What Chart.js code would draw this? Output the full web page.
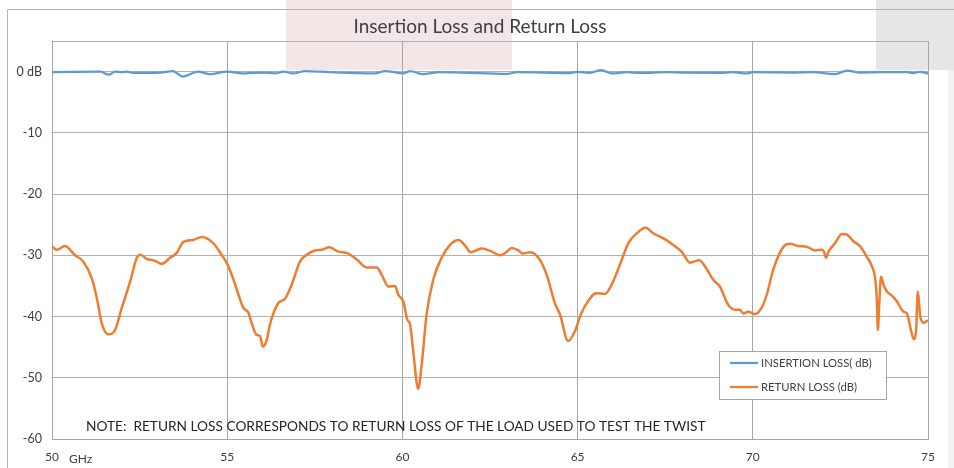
<!DOCTYPE html>
<html>
<head>
<meta charset="utf-8">
<script src="https://cdn.jsdelivr.net/npm/chart.js@4"></script>
<style>
  body { margin: 0; background: #fff; }
  canvas { display: block; }
</style>
</head>
<body>
<canvas id="myChart" width="954" height="468"></canvas>
<script>
// insertion loss, GHz / dB
const ilFreq = [50.00, 51.37, 51.63, 51.80, 52.00, 52.14, 52.31, 53.08, 53.45, 53.74, 54.17, 54.51, 54.99,
  55.51, 55.99, 56.36, 56.62, 56.88, 57.22, 57.93, 59.22, 59.50, 60.02, 60.22, 60.56, 61.07, 61.64,
  63.01, 63.27, 64.78, 64.98, 65.35, 65.67, 65.98, 66.41, 66.78, 67.55, 68.01, 69.01, 69.43, 69.83,
  70.00, 71.15, 71.72, 72.35, 72.69, 73.06, 73.63, 74.40, 74.57, 74.77, 75.00];
const ilDb = [-0.1, 0.0, -0.5, 0.0, -0.1, 0.0, -0.2, -0.15, 0.1, -0.8, 0.0, -0.4, 0.0,
  -0.3, -0.15, -0.3, 0.0, -0.3, 0.1, -0.1, -0.3, 0.1, -0.3, 0.1, -0.4, -0.1, -0.15,
  -0.35, -0.1, -0.25, -0.05, -0.2, 0.25, -0.3, -0.1, -0.2, -0.1, -0.15, -0.2, -0.1, -0.3,
  -0.1, -0.15, -0.1, -0.4, 0.15, -0.15, -0.1, -0.1, -0.25, -0.05, -0.3];

// return loss, GHz / dB
const rlFreq = [50.00, 50.13, 50.37, 50.66, 50.89, 51.13, 51.28, 51.42, 51.61, 51.80, 51.99, 52.23, 52.42,
  52.53, 52.70, 52.94, 53.13, 53.37, 53.56, 53.75, 54.03, 54.27, 54.60, 54.84, 55.00, 55.13, 55.32,
  55.46, 55.60, 55.70, 55.84, 55.94, 56.01, 56.13, 56.22, 56.46, 56.65, 56.84, 57.08, 57.27, 57.51,
  57.70, 57.91, 58.17, 58.41, 58.70, 58.98, 59.27, 59.41, 59.60, 59.79, 59.88, 60.03, 60.14, 60.22,
  60.31, 60.45, 60.55, 60.69, 60.88, 61.12, 61.36, 61.60, 61.79, 61.95, 62.26, 62.55, 62.79, 62.96,
  63.12, 63.31, 63.43, 63.64, 63.88, 64.12, 64.35, 64.50, 64.73, 64.93, 65.07, 65.21, 65.54, 65.78,
  65.97, 66.21, 66.45, 66.69, 66.94, 67.16, 67.44, 67.73, 67.97, 68.21, 68.47, 68.68, 68.87, 69.06,
  69.30, 69.49, 69.63, 69.73, 69.87, 70.06, 70.25, 70.40, 70.58, 70.77, 70.91, 71.06, 71.30, 71.54,
  71.77, 71.97, 72.03, 72.09, 72.16, 72.35, 72.54, 72.68, 72.87, 73.06, 73.25, 73.40, 73.49, 73.54,
  73.57, 73.61, 73.66, 73.73, 73.83, 73.97, 74.11, 74.30, 74.40, 74.49, 74.59, 74.66, 74.71, 74.78,
  74.88, 75.00];
const rlDb = [-28.5, -29.1, -28.5, -30.0, -31.0, -33.7, -37.0, -41.1, -42.9, -42.2, -38.6, -34.3, -30.4,
  -29.9, -30.6, -30.9, -31.4, -30.4, -29.6, -27.8, -27.5, -27.0, -28.0, -29.9, -31.4, -33.2, -36.4,
  -38.6, -39.3, -41.1, -43.0, -43.2, -44.9, -43.8, -41.3, -37.8, -37.1, -34.8, -31.0, -29.9, -29.2,
  -29.1, -28.7, -29.4, -29.6, -30.7, -32.0, -32.0, -33.2, -35.1, -35.0, -36.4, -37.6, -40.5, -41.3,
  -45.7, -51.8, -47.9, -39.7, -34.0, -30.4, -28.3, -27.5, -28.4, -29.5, -28.9, -29.4, -30.0, -29.5,
  -28.8, -29.2, -29.7, -29.5, -30.4, -33.2, -37.8, -39.7, -44.0, -42.3, -40.0, -38.3, -36.2, -36.3,
  -34.8, -31.5, -28.0, -26.4, -25.5, -26.4, -27.2, -28.3, -29.4, -31.2, -30.8, -32.2, -34.0, -35.1,
  -38.1, -38.9, -38.9, -39.5, -39.2, -39.6, -38.6, -36.4, -32.4, -29.6, -28.4, -28.1, -28.5, -28.6,
  -29.2, -29.1, -29.4, -30.4, -29.4, -28.0, -26.5, -26.6, -27.7, -28.5, -30.2, -31.8, -33.7, -37.3,
  -42.2, -37.8, -33.5, -34.8, -35.9, -36.6, -37.5, -39.2, -39.5, -41.6, -43.7, -42.2, -35.9, -40.0,
  -41.0, -40.6];

const yTicks = [0, -10, -20, -30, -40, -50, -60];
const xTicks = [50, 55, 60, 65, 70, 75];
const seriesNames = ['INSERTION LOSS( dB)', 'RETURN LOSS (dB)'];
const seriesColors = ['#5b9bd5', '#ed7d31'];
const titleText = 'Insertion Loss and Return Loss';
const noteText = 'NOTE:  RETURN LOSS CORRESPONDS TO RETURN LOSS OF THE LOAD USED TO TEST THE TWIST';

const toPoints = (xs, ys) => xs.map((x, i) => ({ x: x, y: ys[i] }));

const decor = {
    id: 'decor',
    beforeDraw(chart) {
        const ctx = chart.ctx;
        ctx.save();
        ctx.fillStyle = '#ffffff';
        ctx.fillRect(0, 0, 954, 468);
        ctx.fillStyle = '#f2e6e6';
        ctx.fillRect(286, 0, 226, 70);
        ctx.fillStyle = '#e6e6e6';
        ctx.fillRect(876, 0, 78, 70);
        ctx.fillStyle = '#f2f2f2';
        ctx.fillRect(948, 70, 6, 398);
        ctx.strokeStyle = '#b4b4b4';
        ctx.lineWidth = 1;
        ctx.beginPath();
        ctx.moveTo(7.5, 468);
        ctx.lineTo(7.5, 9.5);
        ctx.lineTo(954, 9.5);
        ctx.stroke();

        // title
        ctx.fillStyle = '#404040';
        ctx.font = '19px Lato';
        ctx.textAlign = 'center';
        ctx.textBaseline = 'middle';
        ctx.fillText(titleText, 480, 27);
        ctx.restore();
    },
    afterDraw(chart) {
        const ctx = chart.ctx;
        ctx.save();
        ctx.fillStyle = '#262626';
        ctx.font = '13.7px Lato';
        ctx.textBaseline = 'middle';
        ctx.fillText(noteText, 86, 427);
        ctx.fillStyle = '#404040';
        ctx.font = '12px Lato';
        ctx.fillText('GHz', 69, 459);

        // legend
        ctx.fillStyle = '#ffffff';
        ctx.fillRect(719.5, 351.5, 167, 48);
        ctx.strokeStyle = '#a6a6a6';
        ctx.lineWidth = 1;
        ctx.strokeRect(719.5, 351.5, 167, 48);
        seriesNames.forEach((name, i) => {
            const y = 363 + i * 24;
            ctx.strokeStyle = seriesColors[i];
            ctx.lineWidth = 2.25;
            ctx.beginPath();
            ctx.moveTo(730, y);
            ctx.lineTo(758, y);
            ctx.stroke();
            ctx.fillStyle = '#404040';
            ctx.font = '11.3px Lato';
            ctx.fillText(name, 761, y);
        });
        ctx.restore();
    }
};

const ctx = document.getElementById('myChart').getContext('2d');
const myChart = new Chart(ctx, {
    type: 'line',
    data: {
        datasets: [{
            label: seriesNames[0],
            data: toPoints(ilFreq, ilDb),
            borderColor: seriesColors[0],
            borderWidth: 2.25,
            pointRadius: 0,
            cubicInterpolationMode: 'monotone'
        }, {
            label: seriesNames[1],
            data: toPoints(rlFreq, rlDb),
            borderColor: seriesColors[1],
            borderWidth: 2.5,
            pointRadius: 0,
            cubicInterpolationMode: 'monotone'
        }]
    },
    options: {
        responsive: false,
        animation: false,
        layout: { padding: { top: 41, right: 26, bottom: 0, left: 0 } },
        plugins: {
            legend: { display: false },
            tooltip: { enabled: false },
            title: { display: false }
        },
        scales: {
            x: {
                type: 'linear',
                min: 50,
                max: 75,
                afterBuildTicks: (scale) => { scale.ticks = xTicks.map(v => ({ value: v })); },
                afterFit: (scale) => { scale.height = 29; },
                grid: { color: '#a6a6a6', drawTicks: false },
                border: { color: '#a6a6a6' },
                ticks: { color: '#404040', font: { family: 'Lato', size: 12 }, padding: 11, maxRotation: 0 }
            },
            y: {
                min: -60,
                max: 5,
                afterBuildTicks: (scale) => { scale.ticks = yTicks.concat([5]).map(v => ({ value: v })); },
                afterFit: (scale) => { scale.width = 52; },
                grid: { color: '#b0b0b0', drawTicks: false },
                border: { color: '#a6a6a6' },
                ticks: {
                    color: '#404040',
                    font: { family: 'Lato', size: 12.5 },
                    padding: 10,
                    callback: function(value) {
                        if (value === 5) return '';
                        return value === 0 ? '0 dB' : value;
                    }
                }
            }
        }
    },
    plugins: [decor]
});
</script>
</body>
</html>
